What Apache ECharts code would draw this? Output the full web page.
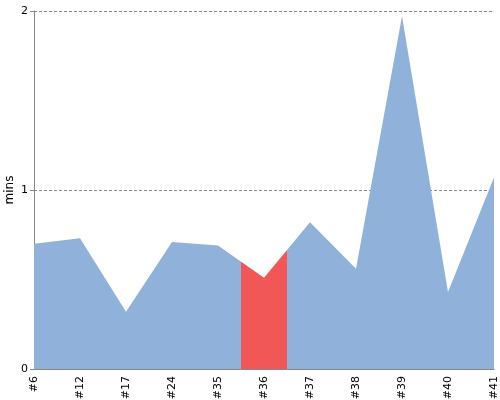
<!DOCTYPE html>
<html>
<head>
<meta charset="utf-8">
<script src="https://cdn.jsdelivr.net/npm/echarts@6/dist/echarts.min.js"></script>
<style>
  html, body { margin: 0; padding: 0; background: #fff; }
  #chart { width: 500px; height: 400px; }
</style>
</head>
<body>
<div id="chart"></div>
<script>
const categories = ["#6", "#12", "#17", "#24", "#35", "#36", "#37", "#38", "#39", "#40", "#41"];
const durations = [0.70, 0.73, 0.32, 0.71, 0.69, 0.51, 0.82, 0.56, 1.97, 0.43, 1.07];
const highlightIndex = 5;

const chart = echarts.init(document.getElementById("chart"));
chart.setOption({
  animation: false,
  textStyle: { fontFamily: "DejaVu Sans" },
  grid: { left: 34, right: 6, top: 11, bottom: 31, outerBoundsMode: "none", containLabel: false },
  visualMap: {
    show: false,
    type: "piecewise",
    dimension: 0,
    seriesIndex: 0,
    pieces: [
      { gt: highlightIndex - 0.5, lte: highlightIndex + 0.5, color: "#f25757" }
    ],
    outOfRange: { color: "#8fb1da" }
  },
  xAxis: {
    type: "value",
    min: 0,
    max: categories.length - 1,
    interval: 1,
    axisLine: { lineStyle: { color: "#888" } },
    axisTick: { show: false },
    splitLine: { show: false },
    axisLabel: {
      rotate: 90, color: "#000", fontSize: 11, margin: 7,
      showMinLabel: true, showMaxLabel: true,
      formatter: (v) => categories[v]
    }
  },
  yAxis: {
    type: "value",
    min: 0,
    max: 2,
    interval: 1,
    name: "mins",
    nameLocation: "middle",
    nameGap: 18,
    nameMoveOverlap: false,
    nameTextStyle: { color: "#000", fontSize: 12 },
    axisLine: { show: true, lineStyle: { color: "#888" } },
    axisTick: { show: true, length: 4, lineStyle: { color: "#888" } },
    axisLabel: { color: "#000", fontSize: 11, margin: 6 },
    splitLine: { lineStyle: { color: "#888", type: [3, 2] } }
  },
  series: [{
    type: "line",
    data: durations.map((v, i) => [i, v]),
    symbol: "none",
    lineStyle: { width: 0 },
    areaStyle: { opacity: 1 }
  }]
});
</script>
</body>
</html>
